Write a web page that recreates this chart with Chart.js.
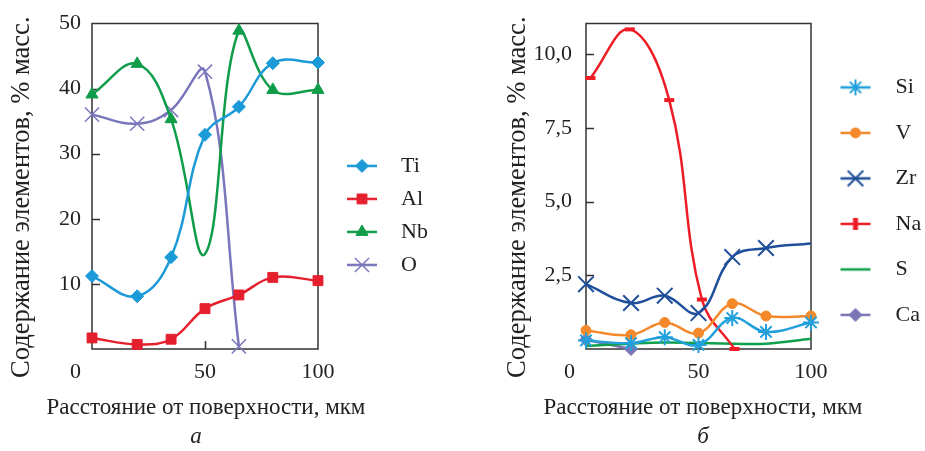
<!DOCTYPE html>
<html>
<head>
<meta charset="utf-8">
<script src="https://cdn.jsdelivr.net/npm/chart.js@4/dist/chart.umd.min.js"></script>
<style>
  body { margin: 0; background: #fff; }
  .wrap { display: flex; width: 925px; height: 451px; }
  canvas { display: block; }
</style>
</head>
<body>
<div class="wrap">
  <canvas id="chartA" width="462" height="451"></canvas>
  <canvas id="chartB" width="463" height="451"></canvas>
</div>
<script>
// panel a
const distance = [0, 20, 35, 50, 65, 80, 100];
const ti = [11.2, 8.1, 14.1, 32.9, 37.2, 43.9, 44.0];
const al = [1.7, 0.7, 1.5, 6.2, 8.3, 11.0, 10.5];
const nb = [39.1, 43.8, 35.3, 14.6, 48.9, 39.8, 39.8];
const oDist = [0, 20, 35, 50, 65];
const o = [36.0, 34.6, 36.7, 42.6, 0.4];

// panel b
const si = [0.29, 0.2, 0.4, 0.14, 1.05, 0.58, 0.9];
const v = [0.63, 0.48, 0.9, 0.54, 1.54, 1.12, 1.12];
const zr = [2.2, 1.56, 1.81, 1.22, 3.12, 3.43, 3.58];
const naDist = [2, 19.5, 37, 51.5, 66];
const na = [9.2, 10.85, 8.45, 1.68, 0.0];
const s = [0.1, 0.18, 0.22, 0.2, 0.18, 0.18, 0.35];
const caDist = [0, 20];
const ca = [0.31, 0.0];

const xTitle = 'Расстояние от поверхности, мкм';
const yTitle = 'Содержание элементов, % масс.';

const SERIF = "'Liberation Serif', 'DejaVu Serif', serif";
Chart.defaults.font.family = SERIF;
Chart.defaults.color = '#222';

const LEGEND_FONT = 22;

const pts = (xs, ys) => ys.map((y, i) => ({x: xs[i], y: y}));

function series(label, xs, ys, color, style, radius, bw, extra) {
  return Object.assign({
    label: label,
    data: pts(xs, ys),
    borderColor: color,
    backgroundColor: color,
    borderWidth: 2.5,
    tension: 0.4,
    pointStyle: style || false,
    pointRadius: style ? radius : 0,
    pointBorderWidth: bw,
    pointBackgroundColor: color,
    pointBorderColor: color,
    clip: false,
    legendStyle: style,
    legendRadius: radius,
    legendBw: bw
  }, extra || {});
}

// small picture for the legend: short line + marker
function legendIcon(ds, boxW, lineStart) {
  const c = document.createElement('canvas');
  c.width = boxW; c.height = 24;
  const g = c.getContext('2d');
  g.strokeStyle = ds.borderColor; g.fillStyle = ds.borderColor;
  g.lineWidth = 2.5;
  g.beginPath(); g.moveTo(lineStart, 12); g.lineTo(lineStart + 30, 12); g.stroke();
  if (ds.legendStyle) {
    g.lineWidth = ds.legendBw;
    Chart.helpers.drawPoint(g, {
      pointStyle: ds.legendStyle,
      radius: ds.legendRadius,
      borderWidth: ds.legendBw,
      rotation: ds.legendRot || 0
    }, lineStart + 15, 12);
  }
  return c;
}

// width the legend will take (Chart.js adds 10px to a vertical legend),
// so the plot box lands where it should
function legendWidth(labels, p) {
  const g = document.createElement('canvas').getContext('2d');
  g.font = LEGEND_FONT + 'px ' + SERIF;
  const textW = Math.max(...labels.map(t => g.measureText(t).width));
  return p.legendPad + p.iconW + LEGEND_FONT / 2 + textW + 10;
}

// box around the plot, short inner ticks
const frame = {
  id: 'frame',
  beforeDatasetsDraw(chart) {
    const {ctx, chartArea: a, scales} = chart;
    ctx.save();
    ctx.strokeStyle = '#333';
    ctx.lineWidth = 1.5;
    ctx.strokeRect(a.left, a.top, a.width, a.height);
    ctx.beginPath();
    scales.y.ticks.forEach(t => {
      if (t.value <= scales.y.min || t.value >= scales.y.max) return;
      const y = Math.round(scales.y.getPixelForValue(t.value)) + 0.5;
      ctx.moveTo(a.left, y); ctx.lineTo(a.left + 8, y);
    });
    scales.x.ticks.forEach(t => {
      if (t.value <= scales.x.min || t.value >= scales.x.max) return;
      const x = Math.round(scales.x.getPixelForValue(t.value)) + 0.5;
      ctx.moveTo(x, a.bottom); ctx.lineTo(x, a.bottom - 8);
    });
    ctx.stroke();
    ctx.restore();
  }
};

// axis titles and panel letter (drawn without Chart.js squeezing them)
const captions = {
  id: 'captions',
  afterDraw(chart, args, opts) {
    const {ctx, chartArea: a} = chart;
    const cx = (a.left + a.right) / 2;
    ctx.save();
    ctx.fillStyle = '#222';
    ctx.textAlign = 'center';
    ctx.textBaseline = 'middle';
    ctx.font = opts.xSize + 'px ' + SERIF;
    ctx.fillText(xTitle, cx + opts.xDx, a.bottom + 59);
    ctx.font = 'italic ' + opts.letterSize + 'px ' + SERIF;
    ctx.fillText(opts.letter, cx + opts.letterDx, a.bottom + 88);
    ctx.translate(opts.yX, (a.top + a.bottom) / 2 + 11);
    ctx.rotate(-Math.PI / 2);
    ctx.font = opts.ySize + 'px ' + SERIF;
    ctx.fillText(yTitle, 0, 0);
    ctx.restore();
  }
};

function makeChart(id, p) {
  const canvas = document.getElementById(id);
  const padRight = canvas.width - p.plotRight - legendWidth(p.datasets.map(d => d.label), p);
  return new Chart(canvas, {
    type: 'line',
    data: { datasets: p.datasets },
    options: {
      responsive: false,
      animation: false,
      events: [],
      layout: { padding: { top: 23.5, right: padRight, bottom: 65.6, left: 0 } },
      scales: {
        x: {
          type: 'linear', min: 0, max: 100,
          grid: { display: false, drawTicks: false }, border: { display: false },
          afterFit: (scale) => { scale.height = 36.4; },
          ticks: {
            stepSize: 50, padding: 10, font: { size: 22 }, color: '#222',
            callback: (val) => val === 0 ? '0      ' : String(val)
          }
        },
        y: {
          min: 0, max: p.yMax,
          grid: { display: false, drawTicks: false }, border: { display: false },
          afterFit: (scale) => { scale.width = p.yWidth; },
          ticks: {
            stepSize: p.yStep, includeBounds: false, padding: p.yPad,
            font: { size: 22, lineHeight: 0.8 }, color: '#222',
            callback: p.yFormat
          }
        }
      },
      plugins: {
        tooltip: { enabled: false },
        captions: {
          letter: p.letter, letterDx: p.letterDx, letterSize: 23,
          xSize: 23, xDx: p.xDx, ySize: 26.5, yX: p.yX
        },
        legend: {
          position: 'right', align: 'start', maxWidth: 300,
          title: { display: true, text: '', font: { size: 12 }, padding: { top: p.legendTop, bottom: 0 } },
          labels: {
            usePointStyle: true, pointStyleWidth: p.iconW, padding: p.legendPad,
            font: { size: LEGEND_FONT }, color: '#222',
            generateLabels: (chart) => chart.data.datasets.map((ds, i) => ({
              text: ds.label,
              pointStyle: legendIcon(ds, p.iconW, p.lineStart),
              fillStyle: 'rgba(0,0,0,0)', strokeStyle: 'rgba(0,0,0,0)', lineWidth: 0,
              fontColor: '#222', hidden: false, datasetIndex: i
            }))
          }
        }
      }
    },
    plugins: [frame, captions]
  });
}

makeChart('chartA', {
  letter: 'а', letterDx: -9, xDx: 1, yX: 22,
  yMax: 50, yStep: 10, yWidth: 92, yPad: 11, plotRight: 318,
  yFormat: (val) => val === 0 ? '' : String(val),
  legendTop: 106, legendPad: 11, iconW: 61, lineStart: 18,
  datasets: [
    series('Ti', distance, ti, '#1b9ad7', 'rectRot', 6.5, 1),
    series('Al', distance, al, '#e5202e', 'rect', 7, 1),
    series('Nb', distance, nb, '#0f9d4a', 'triangle', 7, 1, { pointRadius: [7, 7, 7, 0, 7, 7, 7] }),
    series('O', oDist, o, '#7a76bb', 'crossRot', 10, 1.5)
  ]
});

makeChart('chartB', {
  letter: 'б', letterDx: 4.5, xDx: 4.5, yX: 56,
  yMax: 11.05, yStep: 2.5, yWidth: 124, yPad: 14, plotRight: 349,
  yFormat: (val) => val === 0 ? '' : val.toFixed(1).replace('.', ','),
  legendTop: 15, legendPad: 23.5, iconW: 50, lineStart: 6,
  datasets: [
    series('Si', distance, si, '#21a0db', 'star', 8, 2),
    series('V', distance, v, '#f3892a', 'circle', 5, 1),
    series('Zr', distance, zr, '#1f4f9a', 'crossRot', 11, 2, { pointRadius: [11, 11, 11, 11, 11, 11, 0] }),
    series('Na', naDist, na, '#ee1c25', 'line', 5, 4, { legendRot: 90, legendRadius: 6, legendBw: 5 }),
    series('S', distance, s, '#0ea04b', null, 0, 0),
    series('Ca', caDist, ca, '#7b74b5', 'rectRot', 6.5, 1)
  ]
});
</script>
</body>
</html>
